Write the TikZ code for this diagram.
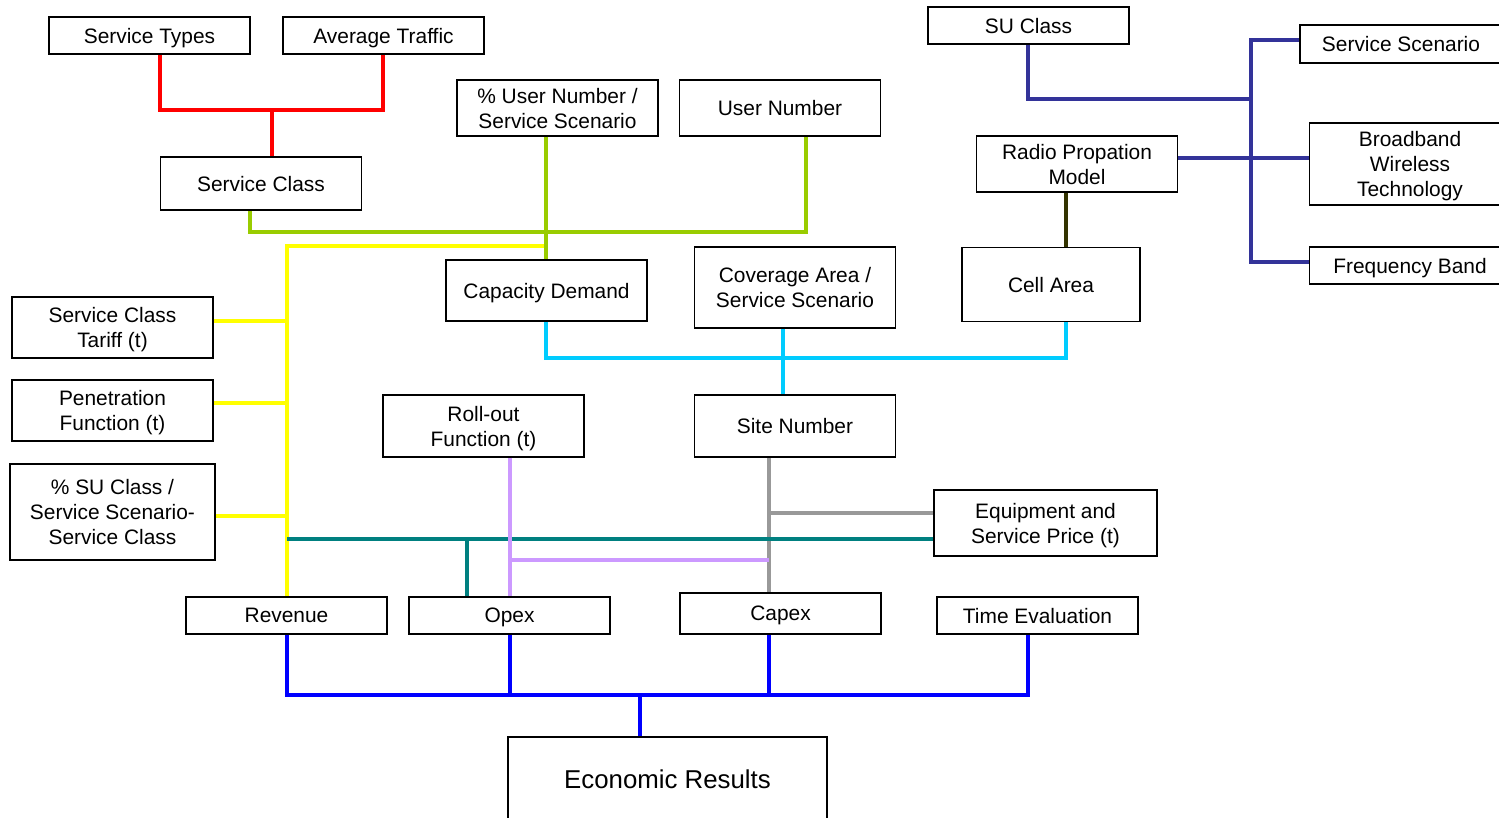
\documentclass[tikz,border=0pt]{standalone}
\usepackage{fontspec}
\setmainfont{Liberation Sans}
\usepackage{tikz}
\usetikzlibrary{calc}

\definecolor{lnred}{HTML}{FF0000}
\definecolor{lngreen}{HTML}{99CC00}
\definecolor{lnyellow}{HTML}{FFFF00}
\definecolor{lnteal}{HTML}{008080}
\definecolor{lnlilac}{HTML}{CC99FF}
\definecolor{lngray}{HTML}{999999}
\definecolor{lncyan}{HTML}{00CCFF}
\definecolor{lnolive}{HTML}{333300}
\definecolor{lnnavy}{HTML}{333399}
\definecolor{lnblue}{HTML}{0000FF}

\tikzset{
  blk/.style={draw, line width=1.1pt, minimum width=4.02cm, minimum height=0.74cm,
    inner sep=1pt, text depth=0pt, align=center, font=\fontsize{11.9}{14.2}\selectfont},
  wire/.style={line width=1.8pt},
}

\begin{document}
\begin{tikzpicture}[x=0.02cm, y=-0.02cm]
                \useasboundingbox (0,0) rectangle (1499,818);
                \clip (0,0) rectangle (1499,818);

                % Boxes
                \node[blk] (st) at (149.5,35.5) {Service Types};
                \node[blk] (at) at (383.5,35.5) {Average Traffic};
                \node[blk, minimum height=1.06cm] (sc) at (261,183.5) {Service Class};
                \node[blk, minimum height=1.12cm] (pun) at (557.5,108) {\% User Number /\\Service Scenario};
                \node[blk, minimum height=1.12cm] (un) at (780,108) {User Number};
                \node[blk] (suc) at (1028.5,25.5) {SU Class};
                \node[blk, minimum width=4.04cm, minimum height=0.76cm] (ss) at (1401,44) {Service Scenario};
                \node[blk, minimum height=1.12cm] (rpm) at (1077,164) {Radio Propation\\Model};
                \node[blk, minimum height=1.64cm] (bwt) at (1410,164) {Broadband\\Wireless\\Technology};
                \node[blk] (fb) at (1410,265.5) {Frequency Band};
                \node[blk, minimum width=3.56cm, minimum height=1.48cm] (ca) at (1051,284.5) {Cell Area};
                \node[blk, minimum height=1.22cm] (cd) at (546.5,290.5) {Capacity Demand};
                \node[blk, minimum height=1.62cm] (cov) at (795,287.5) {Coverage Area /\\Service Scenario};
                \node[blk, minimum height=1.22cm] (sct) at (112.5,327.5) {Service Class\\Tariff (t)};
                \node[blk, minimum height=1.22cm] (pf) at (112.5,410.5) {Penetration\\Function (t)};
                \node[blk, minimum width=4.1cm, minimum height=1.92cm] (psu) at (112.5,512) {\% SU Class /\\Service Scenario-\\Service Class};
                \node[blk, minimum height=1.24cm] (rof) at (483.5,426) {Roll-out\\Function (t)};
                \node[blk, minimum height=1.24cm] (sn) at (795,426) {Site Number};
                \node[blk, minimum width=4.46cm, minimum height=1.32cm] (esp) at (1045.5,523) {Equipment and\\Service Price (t)};
                \node[blk] (rev) at (286.5,615.5) {Revenue};
                \node[blk] (opx) at (509.5,615.5) {Opex};
                \node[blk, minimum height=0.82cm] (cpx) at (780.5,613.5) {Capex};
                \node[blk] (te) at (1037.5,615.5) {Time Evaluation};
                \node[blk, minimum width=6.38cm, minimum height=1.68cm,
                      font=\fontsize{14.7}{17}\selectfont] (er) at (667.5,779) {Economic Results};

                % Red links
                \coordinate (rj) at (272,110);
                \draw[wire, lnred] (160,0 |- st.south) -- (160,110) -- (383,110) -- (383,0 |- at.south);
                \draw[wire, lnred] (rj) -- (272,0 |- sc.north);

                % Yellow links (revenue side)
                \draw[wire, lnyellow] (546,246) -- (287,246) -- (287,0 |- rev.north);
                \draw[wire, lnyellow] (sct.east |- 0,321) -- (287,321);
                \draw[wire, lnyellow] (pf.east |- 0,403) -- (287,403);
                \draw[wire, lnyellow] (psu.east |- 0,516) -- (287,516);

                % Green links
                \draw[wire, lngreen] (250,0 |- sc.south) -- (250,232) -- (806,232) -- (806,0 |- un.south);
                \draw[wire, lngreen] (546,0 |- pun.south) -- (546,0 |- cd.north);

                % Cyan links
                \draw[wire, lncyan] (546,0 |- cd.south) -- (546,358) -- (1066,358) -- (1066,0 |- ca.south);
                \draw[wire, lncyan] (783,0 |- cov.south) -- (783,0 |- sn.north);

                % Radio model to cell area
                \draw[wire, lnolive] (1066,0 |- rpm.south) -- (1066,0 |- ca.north);

                % Navy links
                \draw[wire, lnnavy] (1028,0 |- suc.south) -- (1028,99) -- (1251,99);
                \draw[wire, lnnavy] (ss.west |- 0,40) -- (1251,40) -- (1251,262) -- (fb.west |- 0,262);
                \draw[wire, lnnavy] (rpm.east |- 0,158) -- (bwt.west |- 0,158);

                % Gray links
                \draw[wire, lngray] (769,0 |- sn.south) -- (769,0 |- cpx.north);
                \draw[wire, lngray] (769,513) -- (esp.west |- 0,513);

                % Teal links
                \draw[wire, lnteal] (287,539) -- (esp.west |- 0,539);
                \draw[wire, lnteal] (467,539) -- (467,0 |- opx.north);

                % Lilac links
                \draw[wire, lnlilac] (510,0 |- rof.south) -- (510,0 |- opx.north);
                \draw[wire, lnlilac] (510,560) -- (769,560);

                % Blue links
                \draw[wire, lnblue] (287,0 |- rev.south) -- (287,695) -- (1028,695) -- (1028,0 |- te.south);
                \draw[wire, lnblue] (510,0 |- opx.south) -- (510,695);
                \draw[wire, lnblue] (769,0 |- cpx.south) -- (769,695);
                \draw[wire, lnblue] (640,695) -- (640,0 |- er.north);
            \end{tikzpicture}
\end{document}
